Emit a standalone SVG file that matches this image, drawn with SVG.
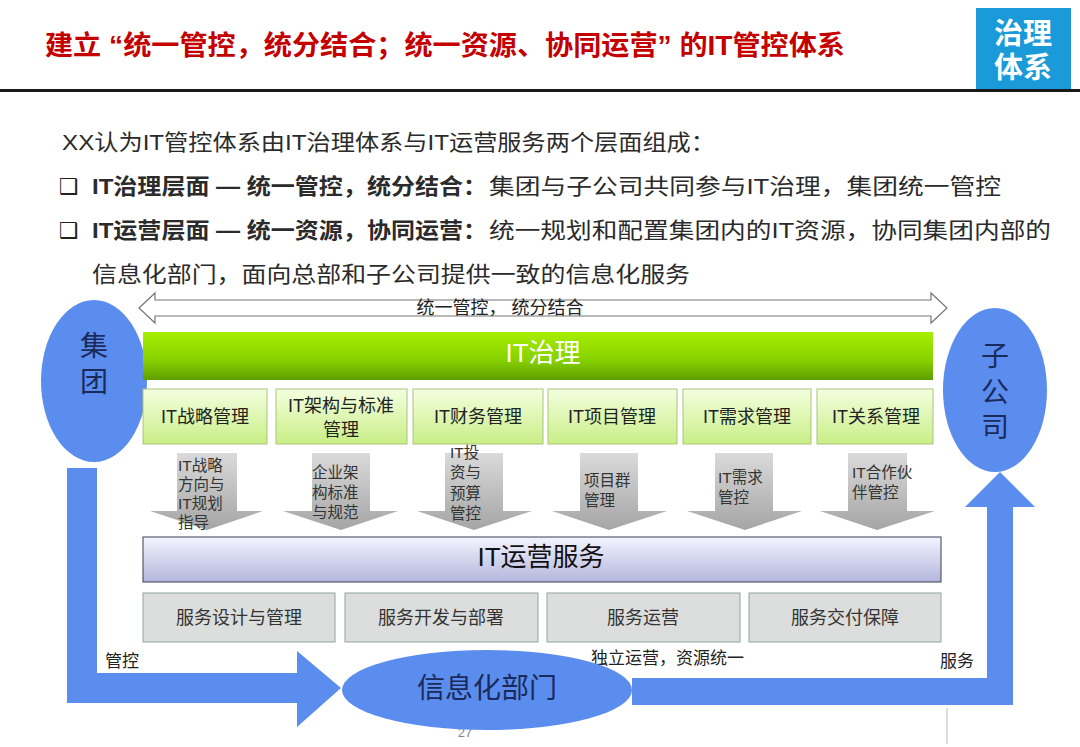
<svg xmlns="http://www.w3.org/2000/svg" width="1080" height="747" viewBox="0 0 1080 747">
<defs>
<style>
text{font-family:"Liberation Sans","Noto Sans CJK SC",sans-serif;}
.body{font-size:22px;fill:#2b2b2b;}
.b{font-weight:bold;}
.chk{font-size:22px;fill:#222;font-weight:bold;font-family:"DejaVu Sans",sans-serif;}
.sub{font-size:18px;fill:#222;text-anchor:middle;}
.arr{font-size:15.5px;fill:#333;}
.svc{font-size:18px;fill:#333;text-anchor:middle;}
.lbl{font-size:17px;fill:#222;}
.blue{fill:#5b8def;}
.node{font-size:28px;fill:#1a2a5a;text-anchor:middle;}
.gbox{fill:url(#gSub);stroke:#a9c47a;stroke-width:1;}
.sbox{fill:#dcdddd;stroke:#8fa3a3;stroke-width:1;}
.garrow{fill:url(#gArr);}
</style>
<linearGradient id="gGreen" x1="0" y1="0" x2="0" y2="1">
<stop offset="0" stop-color="#a6ee00"/>
<stop offset="0.6" stop-color="#86d000"/>
<stop offset="1" stop-color="#5c9e00"/>
</linearGradient>
<linearGradient id="gSub" x1="0" y1="0" x2="0" y2="1">
<stop offset="0" stop-color="#f4ffe0"/>
<stop offset="1" stop-color="#c9ee86"/>
</linearGradient>
<linearGradient id="gOps" x1="0" y1="0" x2="0" y2="1">
<stop offset="0" stop-color="#f4f4ff"/>
<stop offset="1" stop-color="#b3b6dc"/>
</linearGradient>
<linearGradient id="gArr" x1="0" y1="0" x2="0" y2="1">
<stop offset="0" stop-color="#dadada"/>
<stop offset="1" stop-color="#a5a5a5"/>
</linearGradient>
</defs>
<rect width="1080" height="747" fill="#ffffff"/>

<g id="header">
<text x="45" y="55" font-size="27" font-weight="bold" fill="#c40000" textLength="800" lengthAdjust="spacingAndGlyphs">建立 “统一管控，统分结合；统一资源、协同运营” 的IT管控体系</text>
<rect x="976" y="8" width="95" height="83" fill="#1a9ad8"/>
<text x="1023" y="44" font-size="29" font-weight="bold" fill="#ffffff" text-anchor="middle">治理</text>
<text x="1023" y="78" font-size="29" font-weight="bold" fill="#ffffff" text-anchor="middle">体系</text>
<rect x="0" y="89" width="1080" height="3" fill="#1a1a1a"/>
</g>

<g id="intro">
<text class="body" x="62" y="150" textLength="653" lengthAdjust="spacingAndGlyphs">XX认为IT管控体系由IT治理体系与IT运营服务两个层面组成：</text>
<text class="chk" x="59" y="194">❑</text>
<text class="body b" x="92" y="194" textLength="395" lengthAdjust="spacingAndGlyphs">IT治理层面 — 统一管控，统分结合：</text>
<text class="body" x="489" y="194" textLength="512" lengthAdjust="spacingAndGlyphs">集团与子公司共同参与IT治理，集团统一管控</text>
<text class="chk" x="59" y="238">❑</text>
<text class="body b" x="92" y="238" textLength="395" lengthAdjust="spacingAndGlyphs">IT运营层面 — 统一资源，协同运营：</text>
<text class="body" x="489" y="238" textLength="562" lengthAdjust="spacingAndGlyphs">统一规划和配置集团内的IT资源，协同集团内部的</text>
<text class="body" x="92" y="282" textLength="598" lengthAdjust="spacingAndGlyphs">信息化部门，面向总部和子公司提供一致的信息化服务</text>
</g>

<g id="connectors">
<path d="M139,308 L155,293 L155,300 L931,300 L931,293 L947,308 L931,323 L931,316 L155,316 L155,323 Z" fill="#ffffff" stroke="#777" stroke-width="1.2"/>
<text x="500" y="314" font-size="18" fill="#222" text-anchor="middle">统一管控， 统分结合</text>
<path class="blue" d="M67,468 L97,468 L97,673 L297,673 L297,651 L341,688 L297,727 L297,703 L67,703 Z"/>
<path class="blue" d="M632,678 L987,678 L987,507 L965,507 L1000,472 L1035,507 L1013,507 L1013,705 L632,705 Z"/>
<g id="down-arrows">
<path class="garrow" d="M177,453 L237,453 L237,511 L263,511 L207,530 L150,511 L177,511 Z"/>
<path class="garrow" d="M312,453 L370,453 L370,511 L398,511 L341,530 L283,511 L312,511 Z"/>
<path class="garrow" d="M445,453 L503,453 L503,511 L532,511 L474,530 L417,511 L445,511 Z"/>
<path class="garrow" d="M580,453 L638,453 L638,511 L667,511 L609,530 L552,511 L580,511 Z"/>
<path class="garrow" d="M715,453 L773,453 L773,511 L802,511 L745,530 L687,511 L715,511 Z"/>
<path class="garrow" d="M848,453 L907,453 L907,511 L935,511 L877,530 L820,511 L848,511 Z"/>
</g>
<text class="lbl" x="105" y="667" font-size="18">管控</text>
<text class="lbl" x="591" y="664">独立运营，资源统一</text>
<text class="lbl" x="940" y="667" font-size="18">服务</text>
</g>

<g id="arrow-labels">
<text class="arr"><tspan x="178" y="471">IT战略</tspan><tspan x="178" y="490">方向与</tspan><tspan x="178" y="509">IT规划</tspan><tspan x="178" y="528">指导</tspan></text>
<text class="arr"><tspan x="312" y="478">企业架</tspan><tspan x="312" y="498">构标准</tspan><tspan x="312" y="518">与规范</tspan></text>
<text class="arr"><tspan x="450" y="458">IT投</tspan><tspan x="450" y="478">资与</tspan><tspan x="450" y="499">预算</tspan><tspan x="450" y="519">管控</tspan></text>
<text class="arr"><tspan x="584" y="486">项目群</tspan><tspan x="584" y="506">管理</tspan></text>
<text class="arr"><tspan x="718" y="483">IT需求</tspan><tspan x="718" y="503">管控</tspan></text>
<text class="arr"><tspan x="852" y="478">IT合作伙</tspan><tspan x="852" y="498">伴管控</tspan></text>
</g>

<g id="node-group">
<ellipse class="blue" cx="94" cy="381" rx="53" ry="81"/>
<text class="node" x="94" y="356">集</text>
<text class="node" x="94" y="392">团</text>
</g>

<g id="node-subsidiary">
<ellipse class="blue" cx="995" cy="390" rx="52" ry="82"/>
<text class="node" x="995" y="366" font-size="30">子</text>
<text class="node" x="995" y="402" font-size="30">公</text>
<text class="node" x="995" y="437" font-size="30">司</text>
</g>

<g id="node-it-governance">
<rect x="143" y="332" width="790" height="48" fill="url(#gGreen)"/>
<text x="543" y="362" font-size="26" fill="#ffffff" text-anchor="middle">IT治理</text>
</g>

<g id="node-gov-items">
<rect class="gbox" x="143" y="389" width="124" height="55"/>
<text class="sub" x="205" y="423">IT战略管理</text>
<rect class="gbox" x="276" y="389" width="131" height="55"/>
<text class="sub"><tspan x="341" y="412">IT架构与标准</tspan><tspan x="341" y="436">管理</tspan></text>
<rect class="gbox" x="413" y="389" width="130" height="55"/>
<text class="sub" x="478" y="423">IT财务管理</text>
<rect class="gbox" x="548" y="389" width="129" height="55"/>
<text class="sub" x="612" y="423">IT项目管理</text>
<rect class="gbox" x="683" y="389" width="128" height="55"/>
<text class="sub" x="747" y="423">IT需求管理</text>
<rect class="gbox" x="817" y="389" width="116" height="55"/>
<text class="sub" x="876" y="423">IT关系管理</text>
</g>

<g id="node-it-ops">
<rect x="143" y="537" width="798" height="45" fill="url(#gOps)" stroke="#3a3f55" stroke-width="1"/>
<text x="541" y="566" font-size="26" fill="#111" text-anchor="middle">IT运营服务</text>
</g>

<g id="node-ops-items">
<rect class="sbox" x="143" y="593" width="192" height="49"/>
<text class="svc" x="239" y="624">服务设计与管理</text>
<rect class="sbox" x="345" y="593" width="193" height="49"/>
<text class="svc" x="441" y="624">服务开发与部署</text>
<rect class="sbox" x="547" y="593" width="193" height="49"/>
<text class="svc" x="643" y="624">服务运营</text>
<rect class="sbox" x="749" y="593" width="192" height="49"/>
<text class="svc" x="845" y="624">服务交付保障</text>
</g>

<g id="page">
<text x="465" y="737" font-size="13" fill="#888" text-anchor="middle">27</text>
<line x1="947" y1="708" x2="947" y2="744" stroke="#bbb" stroke-width="1"/>
</g>

<g id="node-it-dept">
<ellipse class="blue" cx="487" cy="690" rx="145" ry="40"/>
<text class="node" x="487" y="698">信息化部门</text>
</g>
</svg>
